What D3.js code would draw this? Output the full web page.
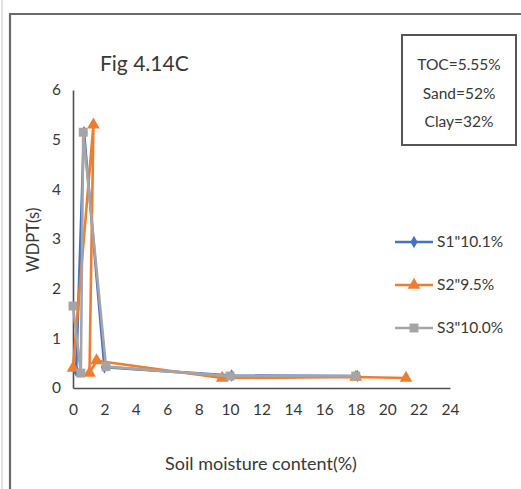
<!DOCTYPE html>
<html>
<head>
<meta charset="utf-8">
<script src="https://cdn.jsdelivr.net/npm/d3@7"></script>
<style>
  html, body { margin: 0; padding: 0; background: #fff; }
  svg { display: block; }
  text { font-family: Lato, "Open Sans", sans-serif; fill: #383838; }
</style>
</head>
<body>
<script>
// WDPT vs soil moisture content, three soil samples
const seriesNames = ['S1"10.1%', 'S2"9.5%', 'S3"10.0%'];
const s1Moisture = [0.2, 0.7, 2.0, 10.1, 18.1];
const s1Wdpt     = [0.35, 5.15, 0.42, 0.25, 0.24];
const s2Moisture = [0, 1.3, 1.05, 1.5, 9.5, 18, 21.2];
const s2Wdpt     = [0.4, 5.3, 0.3, 0.55, 0.2, 0.22, 0.2];
const s3Moisture = [0, 0.5, 0.65, 2.1, 10, 18];
const s3Wdpt     = [1.65, 0.3, 5.15, 0.43, 0.24, 0.24];
const xTicks = [0, 2, 4, 6, 8, 10, 12, 14, 16, 18, 20, 22, 24];
const yTicks = [0, 1, 2, 3, 4, 5, 6];
const infoLines = ["TOC=5.55%", "Sand=52%", "Clay=32%"];
const colors = ["#4472C4", "#ED7D31", "#A5A5A5"];
const markerTypes = [d3.symbolDiamond, d3.symbolTriangle, d3.symbolSquare];
const markerSizes = [45, 70, 80];

const W = 521, H = 489;
const svg = d3.select("body").append("svg").attr("width", W).attr("height", H);

// frame
svg.append("line").attr("x1", 2).attr("x2", 2).attr("y1", 0).attr("y2", H)
  .attr("stroke", "#d8d8d8").attr("stroke-width", 1.5);
svg.append("path").attr("d", `M10,${H} L10,14 L${W},14`)
  .attr("fill", "none").attr("stroke", "#6a6a6a").attr("stroke-width", 2.2);

const x = d3.scaleLinear().domain([0, 24]).range([73, 450]);
const y = d3.scaleLinear().domain([0, 6]).range([388, 90]);

// axes
const xAxis = svg.append("g").attr("transform", `translate(0,${y(0)})`)
  .call(d3.axisBottom(x).tickValues(xTicks).tickFormat(d3.format("d")).tickSize(0).tickPadding(16));
const yAxis = svg.append("g").attr("transform", `translate(${x(0)},0)`)
  .call(d3.axisLeft(y).tickValues(yTicks).tickFormat(d3.format("d")).tickSize(0).tickPadding(12));
[xAxis, yAxis].forEach(g => {
  g.select(".domain").attr("stroke", "#505050").attr("stroke-width", 1.6);
  g.selectAll("text").style("font-size", "15.5px").attr("fill", "#383838")
    .style("font-family", "Lato, 'Open Sans', sans-serif");
});

// axis titles
svg.append("text").attr("x", 261).attr("y", 470).attr("text-anchor", "middle")
  .style("font-size", "18px").text("Soil moisture content(%)");
svg.append("text").attr("transform", "translate(39,240) rotate(-90)")
  .attr("text-anchor", "middle").style("font-size", "16.5px").text("WDPT(s)");

// figure label
svg.append("text").attr("x", 100).attr("y", 71).style("font-size", "21px").text("Fig 4.14C");

// soil info box
svg.append("rect").attr("x", 402).attr("y", 35).attr("width", 114).attr("height", 110)
  .attr("fill", "#fff").attr("stroke", "#555").attr("stroke-width", 2);
svg.selectAll(".info").data(infoLines).enter().append("text")
  .attr("x", 459).attr("y", (d, i) => 70 + i * 28.5).attr("text-anchor", "middle")
  .style("font-size", "15.5px").text(d => d);

// series
const series = [
  { xs: s1Moisture, ys: s1Wdpt },
  { xs: s2Moisture, ys: s2Wdpt },
  { xs: s3Moisture, ys: s3Wdpt }
];
const line = d3.line().x(d => x(d[0])).y(d => y(d[1]));
series.forEach((s, i) => {
  const pts = s.xs.map((v, k) => [v, s.ys[k]]);
  const g = svg.append("g");
  g.append("path").datum(pts).attr("d", line).attr("fill", "none")
    .attr("stroke", colors[i]).attr("stroke-width", 2.6).attr("stroke-linejoin", "round");
  g.selectAll("path.m").data(pts).enter().append("path").attr("class", "m")
    .attr("transform", d => `translate(${x(d[0])},${y(d[1])})`)
    .attr("d", d3.symbol().type(markerTypes[i]).size(markerSizes[i]))
    .attr("fill", colors[i]);
});

// legend
const legend = svg.append("g");
seriesNames.forEach((name, i) => {
  const ly = 242 + i * 43;
  legend.append("line").attr("x1", 395).attr("x2", 433).attr("y1", ly).attr("y2", ly)
    .attr("stroke", colors[i]).attr("stroke-width", 2.6);
  legend.append("path").attr("transform", `translate(414,${ly})`)
    .attr("d", d3.symbol().type(markerTypes[i]).size(markerSizes[i])).attr("fill", colors[i]);
  legend.append("text").attr("x", 437).attr("y", ly + 5).style("font-size", "15.5px").text(name);
});
</script>
</body>
</html>
